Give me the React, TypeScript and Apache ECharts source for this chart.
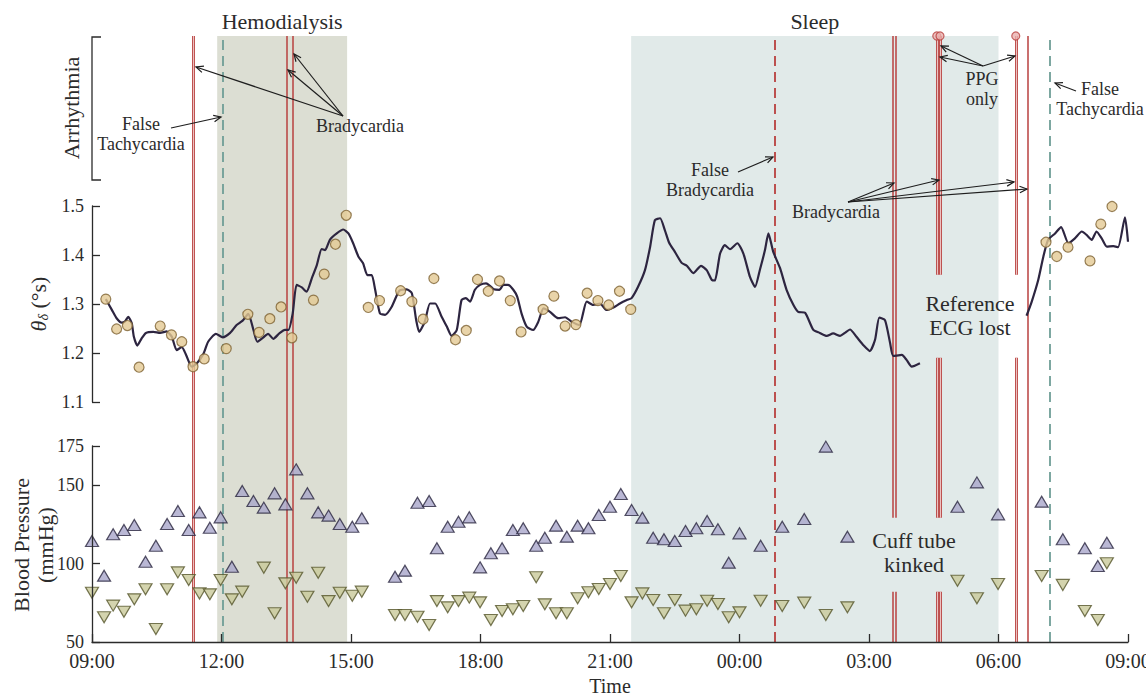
import React, { useEffect, useRef } from 'react';
import * as echarts from 'echarts';

const FONT = '"Liberation Serif", "Times New Roman", serif';
const INK = '#2b2b2b';
const RED = '#b9413f';
const TEAL = '#6f9e97';

// hours after 09:00 (0..24)
const tickLabels = ['09:00', '12:00', '15:00', '18:00', '21:00', '00:00', '03:00', '06:00', '09:00'];

// smoothed theta_delta trace (null = reference ECG lost)
const traceHours = [
  0.32, 0.46, 0.57, 0.69, 0.76, 0.84, 0.92, 0.97, 1.05, 1.15, 1.25, 1.42, 1.58, 1.73, 1.85, 1.96, 2.08, 2.18, 2.31, 2.43,
  2.58, 2.69, 2.87, 3.03, 3.2, 3.35, 3.49, 3.62, 3.74, 3.83, 3.97, 4.08, 4.2, 4.34, 4.47, 4.55, 4.65, 4.74, 4.86, 4.97,
  5.09, 5.21, 5.32, 5.4, 5.51, 5.67, 5.82, 5.94, 6.05, 6.17, 6.28, 6.38, 6.48, 6.56, 6.67, 6.79, 6.94, 7.12, 7.29, 7.41,
  7.51, 7.58, 7.71, 7.83, 7.95, 8.1, 8.22, 8.33, 8.45, 8.56, 8.66, 8.76, 8.87, 8.99, 9.13, 9.22, 9.31, 9.44, 9.53, 9.64,
  9.76, 9.85, 9.95, 10.07, 10.22, 10.34, 10.46, 10.61, 10.8, 10.96, 11.11, 11.29, 11.46, 11.61, 11.77, 11.91, 12.08, 12.23, 12.39, 12.5,
  12.65, 12.81, 12.93, 13.04, 13.16, 13.27, 13.37, 13.5, 13.66, 13.78, 13.93, 14.11, 14.24, 14.36, 14.43, 14.55, 14.66, 14.78, 14.95, 15.09,
  15.24, 15.36, 15.47, 15.59, 15.67, 15.78, 15.94, 16.09, 16.25, 16.36, 16.52, 16.71, 16.86, 17.02, 17.17, 17.33, 17.44, 17.56, 17.71, 17.87,
  18.02, 18.14, 18.24, 18.37, 18.49, 18.56, 18.76, 18.87, 18.99, 19.18,
  20.4,
  21.65, 21.77, 21.92, 22.04, 22.15, 22.31, 22.45, 22.62, 22.77, 22.93, 23.04, 23.16, 23.27, 23.39, 23.51, 23.66, 23.77, 23.93, 24.0,
];
const traceTheta = [
  1.31, 1.288, 1.271, 1.262, 1.264, 1.274, 1.261, 1.233, 1.215, 1.23, 1.241, 1.243, 1.241, 1.244, 1.233, 1.206, 1.212, 1.196, 1.172, 1.179,
  1.198, 1.223, 1.239, 1.232, 1.241, 1.257, 1.266, 1.28, 1.247, 1.223, 1.232, 1.239, 1.229, 1.24, 1.247, 1.247, 1.281, 1.339, 1.334, 1.325,
  1.352, 1.38, 1.412, 1.41, 1.431, 1.444, 1.452, 1.444, 1.424, 1.397, 1.383, 1.359, 1.359, 1.329, 1.281, 1.278, 1.294, 1.327, 1.33, 1.322,
  1.267, 1.243, 1.264, 1.301, 1.301, 1.274, 1.254, 1.235, 1.247, 1.308, 1.312, 1.305, 1.329, 1.339, 1.342, 1.337, 1.33, 1.329, 1.339, 1.339,
  1.329, 1.315, 1.281, 1.254, 1.247, 1.264, 1.291, 1.284, 1.271, 1.273, 1.264, 1.257, 1.305, 1.298, 1.301, 1.288, 1.293, 1.301, 1.308, 1.312,
  1.335, 1.369, 1.417, 1.471, 1.475, 1.451, 1.425, 1.407, 1.384, 1.378, 1.363, 1.378, 1.369, 1.349, 1.348, 1.403, 1.42, 1.412, 1.424, 1.403,
  1.356, 1.335, 1.369, 1.41, 1.444, 1.407, 1.373, 1.329, 1.298, 1.284, 1.282, 1.247, 1.241, 1.235, 1.24, 1.235, 1.241, 1.248, 1.233, 1.216,
  1.204, 1.227, 1.272, 1.267, 1.22, 1.194, 1.196, 1.186, 1.172, 1.179,
  null,
  1.276, 1.305, 1.349, 1.397, 1.431, 1.444, 1.457, 1.424, 1.434, 1.448, 1.441, 1.431, 1.448, 1.434, 1.417, 1.418, 1.416, 1.477, 1.427,
];

// reference theta_delta measurements
const refHours = [
  0.32, 0.57, 0.82, 1.09, 1.58, 1.84, 2.08, 2.34, 2.6, 3.11, 3.61, 3.87, 4.12, 4.38, 4.63, 5.13, 5.38, 5.64, 5.89, 6.4,
  6.66, 7.15, 7.41, 7.67, 7.92, 8.42, 8.67, 8.93, 9.18, 9.44, 9.69, 9.94, 10.45, 10.7, 10.96, 11.21, 11.47, 11.72, 11.97, 12.22,
  12.48, 22.1, 22.35, 22.61, 23.12, 23.37, 23.63,
];
const refTheta = [
  1.31, 1.249, 1.256, 1.171, 1.255, 1.237, 1.223, 1.172, 1.188, 1.209, 1.279, 1.242, 1.27, 1.294, 1.231, 1.308, 1.361, 1.422, 1.481, 1.293,
  1.307, 1.327, 1.305, 1.269, 1.352, 1.227, 1.246, 1.35, 1.326, 1.347, 1.307, 1.243, 1.289, 1.316, 1.255, 1.258, 1.322, 1.307, 1.298, 1.326,
  1.289, 1.426, 1.397, 1.416, 1.388, 1.463, 1.499,
];

// cuff blood pressure
const bpHours = [
  0, 0.28, 0.49, 0.74, 0.98, 1.24, 1.48, 1.74, 1.99, 2.24, 2.49, 2.73, 2.98, 3.24, 3.48, 3.74, 3.98, 4.23, 4.48, 4.73,
  4.99, 5.24, 5.48, 5.74, 6.03, 6.25, 7.02, 7.25, 7.54, 7.81, 7.99, 8.24, 8.49, 8.74, 8.99, 9.24, 9.5, 9.75, 9.99, 10.29,
  10.49, 10.75, 11.0, 11.25, 11.5, 11.74, 12.0, 12.25, 12.5, 12.75, 13.0, 13.25, 13.5, 13.75, 14.0, 14.25, 14.5, 14.75, 15.0, 15.49,
  15.99, 16.5, 17.0, 17.5, 20.05, 20.5, 20.99, 22.0, 22.49, 23.0, 23.3, 23.51,
];
const systolic = [
  114.4, 92.3, 118.7, 121.4, 124.6, 101.2, 111.4, 125.3, 133.5, 121.4, 132.7, 122.9, 129.5, 98.0, 146.3, 139.9, 135.7, 144.8, 137.8, 160.1,
  144.8, 132.7, 130.6, 125.3, 123.5, 128.9, 91.6, 95.5, 138.8, 139.9, 109.8, 123.5, 126.7, 129.5, 97.6, 106.6, 109.8, 121.4, 122.5, 111.4,
  116.5, 124.2, 117.2, 124.2, 122.5, 131.0, 136.3, 144.4, 134.2, 129.3, 116.5, 115.5, 114.4, 120.8, 122.5, 127.2, 121.9, 100.6, 119.3, 111.4,
  123.5, 128.4, 174.6, 117.2, 136.3, 151.8, 131.4, 139.5, 115.5, 109.8, 98.5, 113.3,
];
const diastolic = [
  81.4, 65.8, 73.2, 69.3, 77.2, 83.6, 58.3, 83.6, 94.4, 89.5, 81.0, 80.4, 89.5, 77.2, 82.1, null, 97.4, 68.3, 87.4, 91.0,
  78.9, 94.2, 76.1, 81.4, 79.5, 82.1, 67.2, 67.2, 66.1, 60.8, 76.1, 72.1, 76.1, 78.3, 75.3, 64.0, 69.8, 70.9, 73.0, 91.3,
  74.0, 68.3, 68.3, 77.9, 81.7, 83.8, 87.0, 92.1, 75.3, 81.0, 76.8, 68.3, 76.8, 70.0, 70.9, 76.3, 74.2, 65.8, 68.9, 76.3,
  73.0, 75.1, 67.2, 72.1, 89.1, 77.9, 87.0, 92.1, 86.4, 69.8, 64.0, 100.2,
];
const bpTicks = [50, 100, 150, 175];

// periods and events (hours after 09:00)
const hemodialysis = [2.9, 5.91];
const sleep = [12.49, 21.0];
const bradySolid = [4.52, 4.66, 18.54, 18.615, 21.68];
const bradyHollow = [2.34, 19.57, 19.645, 21.4];
const ppgOnly = [19.57, 19.645, 21.4];
const falseTachy = [3.03, 22.19];
const falseBrady = [15.82];
const ecgLost = [19.2, 21.6];
const cuffKinked = [17.6, 20.0];

// vertical extents (fraction of overlay) left free for the panel notes
const MID_GAP = [0.469, 0.606];
const LOW_GAP = [0.083, 0.205];

function segs(t: number) {
  const cuts: number[][] = [];
  if (t >= cuffKinked[0] && t <= cuffKinked[1]) cuts.push(LOW_GAP);
  if (t >= ecgLost[0] && t <= ecgLost[1]) cuts.push(MID_GAP);
  const out: any[] = [];
  let start = 0;
  for (const [a, b] of cuts) {
    out.push({ coords: [[t, start], [t, a]] });
    start = b;
  }
  out.push({ coords: [[t, start], [t, 1]] });
  return out;
}

function arrow(x1: number, y1: number, x2: number, y2: number) {
  const ang = Math.atan2(y2 - y1, x2 - x1);
  const L = 8;
  const a = 0.42;
  const p1 = [x2 - L * Math.cos(ang - a), y2 - L * Math.sin(ang - a)];
  const p2 = [x2 - L * Math.cos(ang + a), y2 - L * Math.sin(ang + a)];
  return [
    { type: 'line', z: 50, shape: { x1, y1, x2, y2 }, style: { stroke: '#1e1e1e', lineWidth: 1.2 } },
    { type: 'polyline', z: 50, shape: { points: [p1, [x2, y2], p2] }, style: { stroke: '#1e1e1e', lineWidth: 1.2, fill: null } },
  ];
}

function txt(x: number, y: number, text: string, size = 18, extra: any = {}, lh?: number) {
  return {
    type: 'text',
    z: 50,
    x,
    y,
    style: {
      text,
      fontFamily: FONT,
      fontSize: size,
      lineHeight: lh || size + 2,
      fill: INK,
      align: 'center',
      verticalAlign: 'middle',
    },
    ...extra,
  };
}

export default function App() {
  const ref = useRef<HTMLDivElement>(null);
  useEffect(() => {
    if (!ref.current) return;
    const chart = echarts.init(ref.current, undefined, { renderer: 'svg' });
    const L = 92;
    const W = 1036;
    const axisStyle = { lineStyle: { color: INK, width: 1.3 } };
    const tick = { inside: true, length: 8, lineStyle: { color: INK, width: 1.3 } };
    const labelStyle = { fontFamily: FONT, fontSize: 18, color: INK };

    const option: any = {
      animation: false,
      backgroundColor: '#ffffff',
      grid: [
        { left: L, width: W, top: 206, height: 196, outerBoundsMode: 'none', containLabel: false },
        { left: L, width: W, top: 446, height: 196, outerBoundsMode: 'none', containLabel: false },
        { left: L, width: W, top: 36, height: 606, outerBoundsMode: 'none', containLabel: false },
      ],
      xAxis: [
        { gridIndex: 0, type: 'value', min: 0, max: 24, show: false },
        {
          gridIndex: 1,
          type: 'value',
          min: 0,
          max: 24,
          interval: 3,
          z: 10,
          axisLine: axisStyle,
          axisTick: tick,
          splitLine: { show: false },
          axisLabel: { ...labelStyle, fontSize: 20, margin: 9, formatter: (v: number) => tickLabels[Math.round(v / 3)] },
          name: 'Time',
          nameLocation: 'middle',
          nameGap: 34,
          nameTextStyle: { fontFamily: FONT, fontSize: 20, color: INK },
        },
        { gridIndex: 2, type: 'value', min: 0, max: 24, show: false },
      ],
      yAxis: [
        {
          gridIndex: 0,
          type: 'value',
          min: 1.1,
          max: 1.5,
          interval: 0.1,
          z: 10,
          axisLine: { show: true, ...axisStyle },
          axisTick: tick,
          splitLine: { show: false },
          axisLabel: { ...labelStyle, margin: 8, formatter: (v: number) => v.toFixed(1) },
          name: '{t|θ}{s|δ} (°s)',
          nameLocation: 'middle',
          nameRotate: 90,
          nameGap: 42,
          nameTextStyle: {
            fontFamily: FONT,
            fontSize: 22,
            color: INK,
            rich: {
              t: { fontFamily: FONT, fontSize: 22, fontStyle: 'italic', color: INK, lineHeight: 24 },
              s: { fontFamily: FONT, fontSize: 14, fontStyle: 'italic', color: INK, verticalAlign: 'bottom', lineHeight: 24, padding: [10, 0, 0, 0] },
            },
          },
        },
        {
          gridIndex: 1,
          type: 'value',
          min: 50,
          max: 175,
          z: 10,
          axisLine: { show: true, ...axisStyle },
          axisTick: { ...tick, customValues: bpTicks },
          splitLine: { show: false },
          axisLabel: { ...labelStyle, margin: 8, customValues: bpTicks },
        },
        { gridIndex: 2, type: 'value', min: 0, max: 1, show: false },
      ],
      series: [
        {
          type: 'line',
          xAxisIndex: 2,
          yAxisIndex: 2,
          z: 0,
          data: [[0, 0]],
          showSymbol: false,
          lineStyle: { opacity: 0 },
          silent: true,
          markArea: {
            silent: true,
            label: { position: 'top', distance: 4, fontFamily: FONT, fontSize: 22, color: INK },
            data: [
              [{ xAxis: hemodialysis[0], name: 'Hemodialysis', itemStyle: { color: '#dcded3' } }, { xAxis: hemodialysis[1] }],
              [{ xAxis: sleep[0], name: 'Sleep', itemStyle: { color: '#e1eae9' } }, { xAxis: sleep[1] }],
            ],
          },
        },
        {
          type: 'lines',
          coordinateSystem: 'cartesian2d',
          xAxisIndex: 2,
          yAxisIndex: 2,
          z: 1,
          silent: true,
          data: falseTachy.map((t) => ({ coords: [[t, 0], [t, 1]] })),
          lineStyle: { color: TEAL, width: 1.8, type: [10, 6], opacity: 1 },
        },
        {
          type: 'lines',
          coordinateSystem: 'cartesian2d',
          xAxisIndex: 2,
          yAxisIndex: 2,
          z: 1,
          silent: true,
          data: falseBrady.map((t) => ({ coords: [[t, 0], [t, 1]] })),
          lineStyle: { color: RED, width: 1.8, type: [10, 6], opacity: 1 },
        },
        {
          type: 'lines',
          coordinateSystem: 'cartesian2d',
          xAxisIndex: 2,
          yAxisIndex: 2,
          z: 1,
          silent: true,
          data: bradySolid.flatMap(segs),
          lineStyle: { color: RED, width: 1.5, opacity: 1 },
        },
        {
          type: 'lines',
          coordinateSystem: 'cartesian2d',
          xAxisIndex: 2,
          yAxisIndex: 2,
          z: 1,
          silent: true,
          data: bradyHollow.flatMap(segs),
          lineStyle: { color: RED, width: 2.8, opacity: 1 },
        },
        {
          type: 'lines',
          coordinateSystem: 'cartesian2d',
          xAxisIndex: 2,
          yAxisIndex: 2,
          z: 1,
          silent: true,
          data: bradyHollow.flatMap(segs),
          lineStyle: { color: '#f1d0cf', width: 0.9, opacity: 1 },
        },
        {
          type: 'scatter',
          xAxisIndex: 2,
          yAxisIndex: 2,
          z: 2,
          clip: false,
          symbol: 'circle',
          symbolSize: 8,
          itemStyle: { color: '#eab0ae', borderColor: RED, borderWidth: 1.2 },
          data: ppgOnly.map((t) => [t, 1]),
        },
        {
          type: 'line',
          xAxisIndex: 0,
          yAxisIndex: 0,
          z: 4,
          showSymbol: false,
          connectNulls: false,
          smooth: 0.2,
          lineStyle: { color: '#2d2540', width: 2.2 },
          data: traceHours.map((h, i) => (traceTheta[i] == null ? [h, null] : [h, traceTheta[i]])),
        },
        {
          type: 'scatter',
          xAxisIndex: 0,
          yAxisIndex: 0,
          z: 5,
          clip: false,
          symbol: 'circle',
          symbolSize: 10,
          itemStyle: { color: '#e4c994', borderColor: '#7e6333', borderWidth: 1.2 },
          data: refHours.map((h, i) => [h, refTheta[i]]),
        },
        {
          type: 'scatter',
          xAxisIndex: 1,
          yAxisIndex: 1,
          z: 5,
          clip: false,
          symbol: 'triangle',
          symbolSize: [13, 11],
          itemStyle: { color: '#a9a6cb', borderColor: '#29253f', borderWidth: 1.2 },
          data: bpHours.map((h, i) => [h, systolic[i]]),
        },
        {
          type: 'scatter',
          xAxisIndex: 1,
          yAxisIndex: 1,
          z: 5,
          clip: false,
          symbol: 'triangle',
          symbolRotate: 180,
          symbolSize: [13, 11],
          itemStyle: { color: '#c9c99a', borderColor: '#55552a', borderWidth: 1.2 },
          data: bpHours.map((h, i) => [h, diastolic[i]]).filter((p) => p[1] != null),
        },
      ],
      graphic: [
        { type: 'polyline', z: 50, shape: { points: [[101, 37], [92, 37], [92, 180], [101, 180]] }, style: { stroke: INK, lineWidth: 1.3, fill: null } },
        txt(71, 108, 'Arrhythmia', 22, { rotation: Math.PI / 2 }),
        txt(33, 545, 'Blood Pressure\n(mmHg)', 22, { rotation: Math.PI / 2 }, 24),
        txt(141, 134, 'False\nTachycardia'),
        ...arrow(171, 128, 221, 117),
        txt(360, 126, 'Bradycardia'),
        ...arrow(343, 116, 196, 67),
        ...arrow(343, 116, 288, 70),
        ...arrow(343, 116, 294, 54),
        txt(710, 180, 'False\nBradycardia'),
        ...arrow(738, 172, 773, 157),
        txt(836, 212, 'Bradycardia'),
        ...arrow(848, 202, 894, 183),
        ...arrow(848, 202, 939, 180),
        ...arrow(848, 202, 1014, 182),
        ...arrow(848, 202, 1027, 189),
        txt(982, 89, 'PPG\nonly'),
        ...arrow(983, 66, 941, 46),
        ...arrow(983, 66, 940, 57),
        ...arrow(983, 66, 1015, 56),
        txt(1100, 99, 'False\nTachycardia'),
        ...arrow(1076, 91, 1055, 83),
        txt(970, 315, 'Reference\nECG lost', 22),
        txt(914, 552, 'Cuff tube\nkinked', 22),
      ],
    };
    chart.setOption(option);
    return () => chart.dispose();
  }, []);
  return <div ref={ref} style={{ position: 'absolute', left: 0, top: 0, width: 1146, height: 697 }} />;
}
